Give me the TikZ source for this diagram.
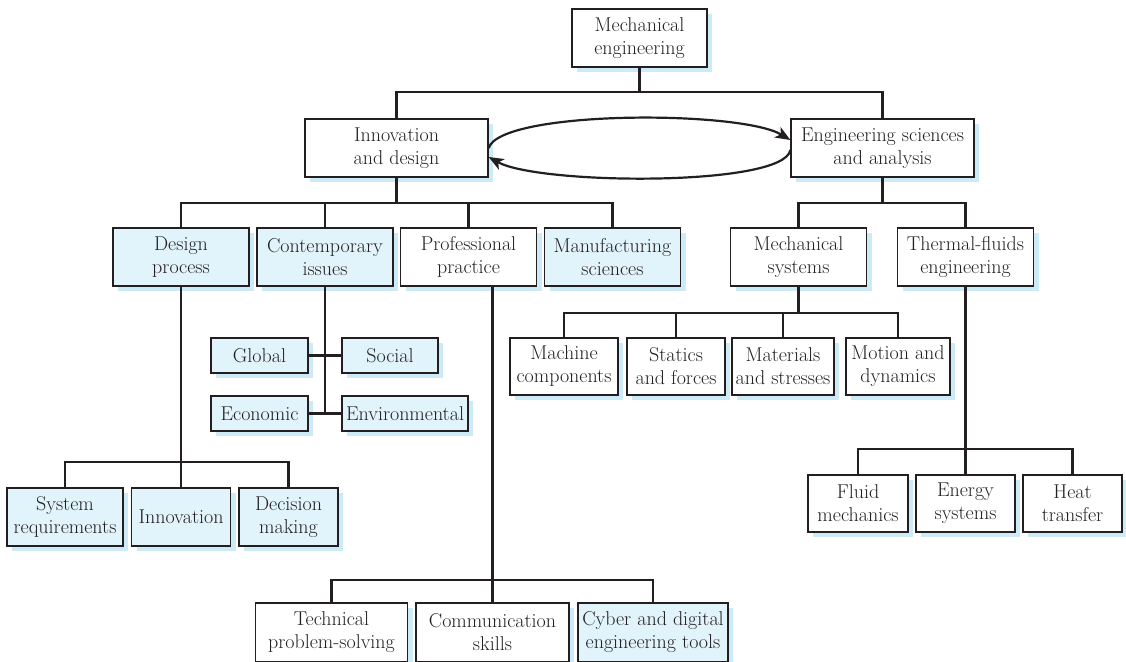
\documentclass[tikz,border=0pt]{standalone}
\usepackage{fontspec}
\usetikzlibrary{arrows.meta,shadows}
\definecolor{boxblue}{HTML}{E1F3FB}
\definecolor{shadeblue}{HTML}{CDEAF7}
\definecolor{ink}{HTML}{231F20}
\begin{document}
\begin{tikzpicture}[x=1pt, y=-1pt,
	box/.style={draw=ink, fill=white, line width=1.3pt, align=center, inner sep=0pt,
		font=\fontsize{20}{23}\selectfont, text=ink,
		drop shadow={shadow xshift=5pt, shadow yshift=-5pt, fill=shadeblue, opacity=1}},
	hbox/.style={box, fill=boxblue},
	mid/.style={minimum width=136pt, minimum height=58pt},
	small/.style={minimum height=35pt},
	link/.style={draw=ink, line width=2.3pt},
	roundtrip/.style={draw=ink, line width=2.2pt, -{Stealth[length=15pt, width=12pt, inset=4pt]}}]
	\useasboundingbox (0,0) rectangle (1126,661);

	\node[box, minimum width=135pt, minimum height=58pt] (mech) at (639.5,38) {Mechanical\\engineering};
	\node[box, minimum width=183pt, minimum height=58pt] (innov) at (396.5,148) {Innovation\\and design};
	\node[box, minimum width=183pt, minimum height=58pt] (eng) at (882.5,148) {Engineering sciences\\and analysis};

	\node[hbox, mid] (dp)   at (181,257)   {Design\\process};
	\node[hbox, mid] (ci)   at (325,257)   {Contemporary\\issues};
	\node[box, mid]  (pp)   at (468.5,257) {Professional\\practice};
	\node[hbox, mid] (ms)   at (612.5,257) {Manufacturing\\sciences};
	\node[box, mid]  (msys) at (798.5,257) {Mechanical\\systems};
	\node[box, mid]  (tf)   at (965.5,257) {Thermal-fluids\\engineering};

	\node[hbox, small, minimum width=97pt]  (glob) at (259.5,355.5) {Global};
	\node[hbox, small, minimum width=96pt]  (soc)  at (390,355.5)   {Social};
	\node[hbox, small, minimum width=97pt]  (econ) at (259.5,413.5) {Economic};
	\node[hbox, small, minimum width=126pt] (env)  at (405,413.5)   {Environmental};

	\node[hbox, minimum width=116pt, minimum height=58pt] (sysreq) at (65,517)    {System\\requirements};
	\node[hbox, minimum width=99pt, minimum height=58pt]  (inno)   at (181,517)   {Innovation};
	\node[hbox, minimum width=99pt, minimum height=58pt]  (dec)    at (288.5,517) {Decision\\making};

	\node[box, minimum width=108pt, minimum height=57pt] (mc)   at (564,366.5)   {Machine\\components};
	\node[box, minimum width=98pt, minimum height=57pt]  (stat) at (676,366.5)   {Statics\\and forces};
	\node[box, minimum width=102pt, minimum height=57pt] (mat)  at (783,366.5)   {Materials\\and stresses};
	\node[box, minimum width=104pt, minimum height=57pt] (mot)  at (898,366.5)   {Motion and\\dynamics};

	\node[box, minimum width=100pt, minimum height=57pt] (fl) at (858,503.5)    {Fluid\\mechanics};
	\node[box, minimum width=99pt, minimum height=57pt]  (en) at (965.5,503.5)  {Energy\\systems};
	\node[box, minimum width=99pt, minimum height=57pt]  (ht) at (1072.5,503.5) {Heat\\transfer};

	\node[box, minimum width=152pt, minimum height=59pt]  (tech)  at (331.5,632.5) {Technical\\problem-solving};
	\node[box, minimum width=153pt, minimum height=59pt]  (comm)  at (492.5,632.5) {Communication\\skills};
	\node[hbox, minimum width=150pt, minimum height=59pt] (cyber) at (653,632.5)   {Cyber and digital\\engineering tools};

	\coordinate (b0) at (639.5,92);
	\coordinate (b1) at (396.5,203);
	\coordinate (b2) at (882.5,203);
	\coordinate (b3) at (181,462);
	\coordinate (b4) at (492.5,580);
	\coordinate (b5) at (798.5,313);
	\coordinate (b6) at (965.5,449);

	\draw[link] (mech) -- (b0);
	\draw[link] (innov.north) |- (b0) -| (eng.north);
	\draw[link] (innov) -- (b1);
	\draw[link] (dp.north) |- (b1) -| (ms.north);
	\draw[link] (ci.north) -- (ci.north |- b1);
	\draw[link] (pp.north) -- (pp.north |- b1);
	\draw[link] (eng) -- (b2);
	\draw[link] (msys.north) |- (b2) -| (tf.north);

	\draw[link] (ci) -- (ci |- econ);
	\draw[link] (glob) -- (soc);
	\draw[link] (econ) -- (env);

	\draw[link] (dp) -- (inno);
	\draw[link] (sysreq.north) |- (b3) -| (dec.north);

	\draw[link] (pp.south -| b4) -- (comm);
	\draw[link] (tech.north) |- (b4) -| (cyber.north);

	\draw[link] (msys) -- (b5);
	\draw[link] (mc.north) |- (b5) -| (mot.north);
	\draw[link] (stat.north) -- (stat.north |- b5);
	\draw[link] (mat.north) -- (mat.north |- b5);

	\draw[link] (tf) -- (en);
	\draw[link] (fl.north) |- (b6) -| (ht.north);

	\draw[roundtrip] (innov.east) .. controls +(12,-38) and +(-50,-30) .. ([yshift=8pt]eng.west);
	\draw[roundtrip] ([yshift=-2pt]eng.west) .. controls +(-6,37) and +(50,28) .. ([yshift=-9pt]innov.east);
\end{tikzpicture}
\end{document}
